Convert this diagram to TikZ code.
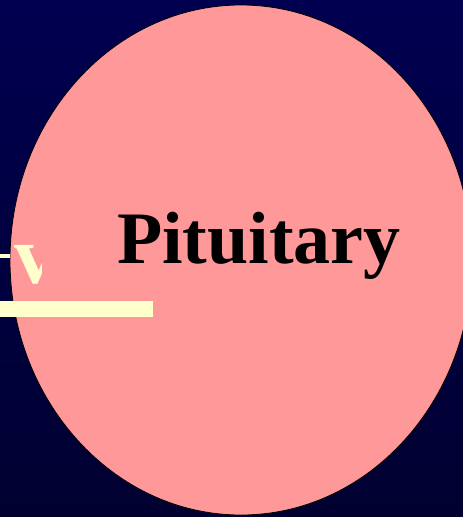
\documentclass[tikz,border=0pt]{standalone}
\usepackage{fontspec}
\setmainfont{Liberation Serif}
\definecolor{navytop}{RGB}{0,0,80}
\definecolor{navybot}{RGB}{0,0,48}
\definecolor{pinkfill}{RGB}{255,153,153}
\definecolor{paleyellow}{RGB}{255,255,204}
\tikzset{
  organ/.style={draw=black, line width=0.8pt, fill=pinkfill},
  yellowbar/.style={fill=paleyellow, draw=none},
  bigtext/.style={font=\fontsize{74}{80}\selectfont\bfseries, inner sep=0pt},
}
\begin{document}
\begin{tikzpicture}[x=1pt,y=-1pt]
\useasboundingbox (0,0) rectangle (463,517);
\shade[top color=navytop, bottom color=navybot] (0,0) rectangle (463,517);
\begin{scope}
\clip (0,0) rectangle (463,517);
\draw[organ] (241,260) ellipse [x radius=231, y radius=255];
\end{scope}
\node[bigtext, anchor=base west] (pit) at (117,263) {Pituitary};
\fill[yellowbar] (0,301) rectangle (153,317);
\fill[yellowbar] (0,254) rectangle (10,258);
\begin{scope}
\clip (0,0) rectangle (41,517);
\node[font=\fontsize{83}{90}\selectfont\bfseries, inner sep=0pt, text=paleyellow, anchor=base west] (vv) at (14,283) {v};
\end{scope}
\end{tikzpicture}
\end{document}
